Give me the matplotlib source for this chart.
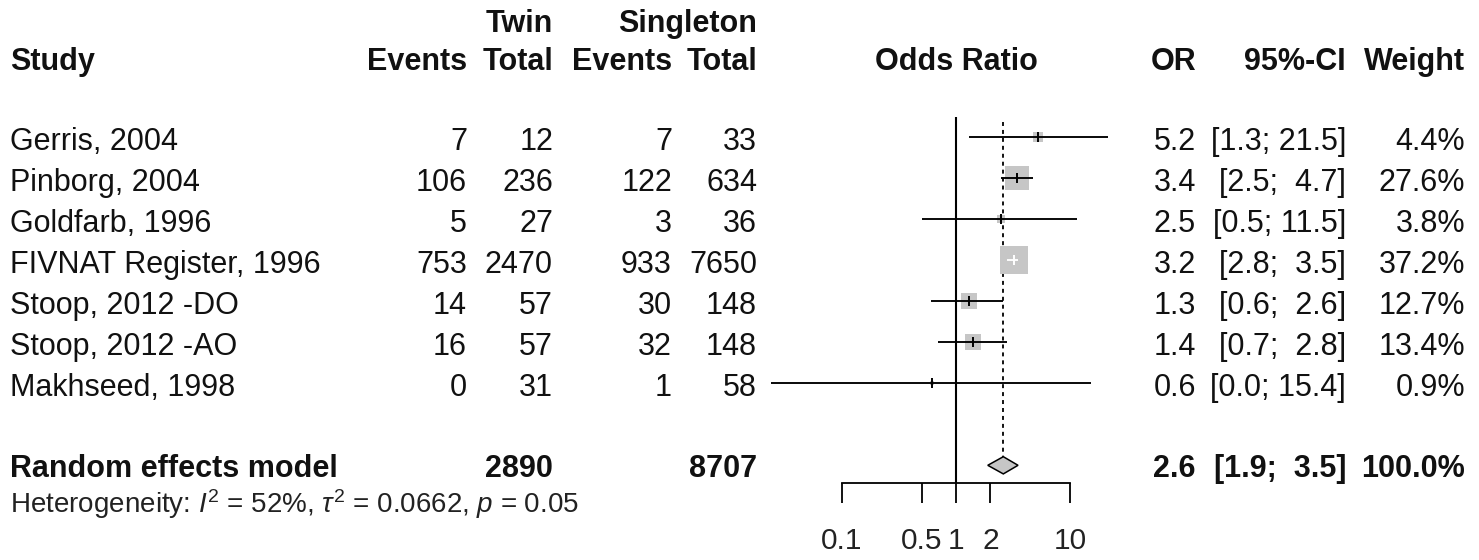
import numpy as np
import matplotlib
matplotlib.use("Agg")
import matplotlib.pyplot as plt
from matplotlib.ticker import FixedLocator, FixedFormatter, NullLocator

# ---------------- data ----------------
studies = ["Gerris, 2004", "Pinborg, 2004", "Goldfarb, 1996", "FIVNAT Register, 1996",
           "Stoop, 2012 -DO", "Stoop, 2012 -AO", "Makhseed, 1998"]
twin_events = [7, 106, 5, 753, 14, 16, 0]
twin_total = [12, 236, 27, 2470, 57, 57, 31]
single_events = [7, 122, 3, 933, 30, 32, 1]
single_total = [33, 634, 36, 7650, 148, 148, 58]
or_est = [5.2, 3.4, 2.5, 3.2, 1.3, 1.4, 0.61]
ci_low = [1.3, 2.5, 0.5, 2.8, 0.6, 0.7, 0.024]
ci_high = [21.5, 4.7, 11.5, 3.5, 2.6, 2.8, 15.4]
weights = [4.4, 27.6, 3.8, 37.2, 12.7, 13.4, 0.9]

re_label = "Random effects model"
re_twin_total = 2890
re_single_total = 8707
re_or = 2.6
re_low = 1.9
re_high = 3.5
re_weight = 100.0
het_text = r"Heterogeneity: $I^2$ = 52%, $\tau^2$ = 0.0662, $p$ = 0.05"

ticks = [0.1, 0.5, 1, 2, 10]
tick_labels = ["0.1", "0.5", "1", "2", "10"]

# ---------------- layout ----------------
W, H, DPI = 1479, 560, 100
plt.rcParams['font.family'] = ['Liberation Sans', 'DejaVu Sans']
plt.rcParams['mathtext.fontset'] = 'custom'
plt.rcParams['mathtext.rm'] = 'Liberation Sans'
plt.rcParams['mathtext.it'] = 'Liberation Sans:italic'
fig = plt.figure(figsize=(W / DPI, H / DPI), dpi=DPI)

ROW0_PX, ROW_PX = 137.3, 41.0
y_top = -ROW0_PX / ROW_PX
y_bot = (H - ROW0_PX) / ROW_PX

tax = fig.add_axes([0, 0, 1, 1])
tax.set_xlim(0, W)
tax.set_ylim(y_bot, y_top)
tax.axis('off')

F_L, F_R = 760, 1130
ONE_PX, DEC_PX = 956, 114
fax = fig.add_axes([F_L / W, 0, (F_R - F_L) / W, 1])
fax.set_xscale('log')
fax.set_xlim(10 ** ((F_L - ONE_PX) / DEC_PX), 10 ** ((F_R - ONE_PX) / DEC_PX))
fax.set_ylim(y_bot, y_top)
fax.patch.set_alpha(0)
for s in ['top', 'right', 'left']:
    fax.spines[s].set_visible(False)
AXIS_ROW = 8.44
fax.spines['bottom'].set_position(('data', AXIS_ROW))
fax.spines['bottom'].set_bounds(ticks[0], ticks[-1])
fax.spines['bottom'].set_linewidth(1.3)
fax.yaxis.set_visible(False)
fax.xaxis.set_major_locator(FixedLocator(ticks))
fax.xaxis.set_major_formatter(FixedFormatter(tick_labels))
fax.xaxis.set_minor_locator(NullLocator())
fax.tick_params(axis='x', direction='out', length=14.4, width=1.3, pad=17,
                labelsize=21.5, labelcolor='#222222')

FS = 22
FS_HET = 20
TXT = '#111111'
BL = 0.32  # baseline offset (rows)

# headers
hdr1 = -2.57
hdr2 = -1.64
tax.text(553, hdr1, "Twin", ha='right', va='baseline', fontsize=FS, fontweight='bold', color=TXT)
tax.text(757, hdr1, "Singleton", ha='right', va='baseline', fontsize=FS, fontweight='bold', color=TXT)
tax.text(10, hdr2, "Study", ha='left', va='baseline', fontsize=FS, fontweight='bold', color=TXT)
for xr, lab in [(467, "Events"), (553, "Total"), (672, "Events"), (757, "Total"),
                (1196, "OR"), (1346, "95%-CI"), (1465, "Weight")]:
    tax.text(xr, hdr2, lab, ha='right', va='baseline', fontsize=FS, fontweight='bold', color=TXT)
fax.text(1, hdr2, "Odds Ratio", ha='center', va='baseline', fontsize=FS, fontweight='bold', color=TXT)

# study rows
BOX_SCALE = 10.4
for i, name in enumerate(studies):
    y = i + BL
    tax.text(10, y, name, ha='left', va='baseline', fontsize=FS, color=TXT)
    tax.text(467, y, f"{twin_events[i]}", ha='right', va='baseline', fontsize=FS, color=TXT)
    tax.text(553, y, f"{twin_total[i]}", ha='right', va='baseline', fontsize=FS, color=TXT)
    tax.text(672, y, f"{single_events[i]}", ha='right', va='baseline', fontsize=FS, color=TXT)
    tax.text(757, y, f"{single_total[i]}", ha='right', va='baseline', fontsize=FS, color=TXT)
    tax.text(1196, y, f"{or_est[i]:.1f}", ha='right', va='baseline', fontsize=FS, color=TXT)
    tax.text(1346, y, f"[{ci_low[i]:.1f}; {ci_high[i]:4.1f}]", ha='right', va='baseline', fontsize=FS, color=TXT)
    tax.text(1465, y, f"{weights[i]:.1f}%", ha='right', va='baseline', fontsize=FS, color=TXT)

    s = BOX_SCALE * weights[i]
    fax.scatter([or_est[i]], [i], marker='s', s=s, color='#c6c6c6', linewidths=0, zorder=2)
    # line colour: white if CI lies inside the box
    half_px = np.sqrt(s) / 2 * DPI / 72
    cx = fax.transData.transform([(or_est[i], i)])[0][0]
    lo_px = fax.transData.transform([(ci_low[i], i)])[0][0]
    hi_px = fax.transData.transform([(ci_high[i], i)])[0][0]
    inside = (lo_px >= cx - half_px) and (hi_px <= cx + half_px)
    col = 'white' if inside else 'black'
    fax.plot([ci_low[i], ci_high[i]], [i, i], color=col, lw=1.35, zorder=3, solid_capstyle='butt')
    fax.plot([or_est[i]], [i], marker='|', markersize=7.5, mew=1.4, color=col, zorder=4)

# summary row
SR = 8
tax.text(10, SR + 0.28, re_label, ha='left', va='baseline', fontsize=FS, fontweight='bold', color=TXT)
tax.text(553, SR + 0.28, f"{re_twin_total}", ha='right', va='baseline', fontsize=FS, fontweight='bold', color=TXT)
tax.text(757, SR + 0.28, f"{re_single_total}", ha='right', va='baseline', fontsize=FS, fontweight='bold', color=TXT)
tax.text(1196, SR + 0.28, f"{re_or:.1f}", ha='right', va='baseline', fontsize=FS, fontweight='bold', color=TXT)
tax.text(1346, SR + 0.28, f"[{re_low:.1f}; {re_high:4.1f}]", ha='right', va='baseline', fontsize=FS, fontweight='bold', color=TXT)
tax.text(1465, SR + 0.28, f"{re_weight:.1f}%", ha='right', va='baseline', fontsize=FS, fontweight='bold', color=TXT)

DH = 0.21
fax.fill([re_low, re_or, re_high, re_or], [SR, SR - DH, SR, SR + DH],
         facecolor='#c6c6c6', edgecolor='black', lw=1.1, zorder=3)

# reference lines
fax.vlines(1, -0.5, AXIS_ROW, color='black', lw=1.5, zorder=1)
fax.vlines(re_or, -0.38, SR - DH, color='black', lw=1.3, linestyles=(0, (2.2, 2.2)), zorder=1)

tax.text(10, 9.17, het_text, ha='left', va='baseline', fontsize=FS_HET, color='#222222')

fig.savefig("out.png", dpi=DPI)
